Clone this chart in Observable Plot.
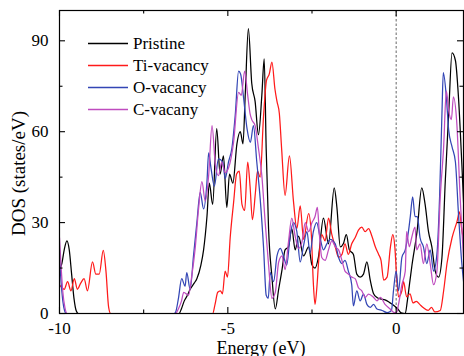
<!DOCTYPE html>
<html>
<head>
<meta charset="utf-8">
<script src="https://cdn.jsdelivr.net/npm/d3@7"></script>
<script src="https://cdn.jsdelivr.net/npm/@observablehq/plot@0.6"></script>
<style>
  html, body { margin: 0; padding: 0; background: #fff; }
  #chart { width: 464px; height: 356px; }
  #chart svg, #chart svg text { font-family: "Liberation Serif", "Times New Roman", "DejaVu Serif", serif !important; }
</style>
</head>
<body>
<div id="chart"></div>
<script>
// ---- Data ----
const seriesNames = ["Pristine", "Ti-vacancy", "O-vacancy", "C-vacany"];
const seriesColors = ["#000000", "#ff1a1a", "#3346b5", "#bf4cbf"];

const xTicks = [-10, -5, 0];
const xMinorTicks = [-7.5, -2.5];
const yTicks = [0, 30, 60, 90];
const yMinorTicks = [15, 45, 75];
const fermiLevel = [0];

const pristine = [
  [-10, 14.5], [-9.93, 16.5], [-9.86, 21], [-9.78, 24], [-9.71, 21], [-9.64, 13], [-9.57, 5], [-9.5, 0.8], [-9.44, 0],
  [-6.45, 0], [-6.38, 1.5], [-6.3, 4], [-6.2, 6], [-6.12, 8], [-6.0, 10], [-5.92, 11.5], [-5.8, 16], [-5.72, 21],
  [-5.62, 32], [-5.55, 43], [-5.45, 36], [-5.33, 61], [-5.23, 46], [-5.13, 52], [-5.03, 35], [-4.95, 46], [-4.85, 43],
  [-4.73, 56], [-4.63, 60], [-4.55, 56], [-4.48, 73], [-4.39, 94], [-4.29, 76], [-4.19, 70], [-4.09, 59], [-3.99, 72],
  [-3.92, 84], [-3.86, 54], [-3.79, 28], [-3.69, 12], [-3.59, 1.5], [-3.49, 8], [-3.39, 14.5], [-3.3, 21], [-3.2, 22],
  [-3.1, 28], [-3.0, 21], [-2.9, 25.5], [-2.75, 19], [-2.6, 22], [-2.5, 16], [-2.41, 15], [-2.31, 18.5], [-2.16, 31.5],
  [-2.01, 23], [-1.84, 41.5], [-1.76, 35], [-1.66, 22], [-1.57, 23], [-1.48, 26], [-1.39, 21], [-1.27, 19.5], [-1.17, 13],
  [-1.07, 12], [-0.97, 13], [-0.87, 17], [-0.77, 11], [-0.67, 6.5], [-0.57, 5.3], [-0.47, 4.8], [-0.33, 4.5], [-0.18, 3.5],
  [-0.05, 2.5], [0.05, 1.5], [0.15, 0.2], [0.27, 0], [0.33, 4], [0.4, 10], [0.47, 16], [0.62, 27], [0.76, 41.5],
  [0.86, 36], [0.96, 27], [1.06, 22], [1.16, 14], [1.26, 12], [1.36, 18.5], [1.46, 44], [1.56, 66], [1.66, 86],
  [1.76, 83.5], [1.85, 71.5], [1.95, 49.5], [2.05, 25]
];

const tiVacancy = [
  [-10, 9.5], [-9.93, 8.5], [-9.86, 8], [-9.76, 10.5], [-9.66, 7.5], [-9.56, 11.5], [-9.47, 8], [-9.37, 10], [-9.27, 11.5],
  [-9.17, 7.5], [-9.02, 17], [-8.92, 13], [-8.82, 13], [-8.7, 20.8], [-8.62, 14], [-8.54, 2], [-8.48, 0],
  [-5.45, 0], [-5.38, 3], [-5.3, 7], [-5.22, 7.5], [-5.16, 6.5], [-5.08, 14], [-5.01, 12], [-4.93, 25], [-4.83, 36.5],
  [-4.74, 46], [-4.66, 47], [-4.58, 36], [-4.5, 34], [-4.41, 50], [-4.34, 42], [-4.27, 31], [-4.18, 40], [-4.12, 47],
  [-4.04, 45], [-3.94, 65], [-3.85, 77], [-3.77, 79], [-3.69, 83], [-3.6, 74], [-3.54, 70], [-3.47, 66], [-3.4, 54],
  [-3.3, 39], [-3.17, 52], [-3.05, 37], [-2.95, 28], [-2.85, 35.5], [-2.75, 24.5], [-2.6, 33], [-2.52, 26], [-2.46, 10],
  [-2.41, 3], [-2.36, 8], [-2.3, 17.5], [-2.21, 26], [-2.11, 24], [-2.01, 31.5], [-1.91, 26], [-1.81, 22], [-1.71, 18.5],
  [-1.61, 19.5], [-1.52, 23], [-1.42, 19.5], [-1.32, 23], [-1.22, 25], [-1.12, 27.5], [-1.02, 28.5], [-0.92, 27],
  [-0.82, 28], [-0.72, 25.5], [-0.62, 22], [-0.52, 19.5], [-0.45, 17.5], [-0.37, 11], [-0.27, 12], [-0.17, 22],
  [-0.1, 26], [-0.04, 22], [0.02, 11], [0.07, 5.5], [0.17, 7.5], [0.22, 10.5], [0.31, 5.5], [0.41, 6.5], [0.5, 3.5],
  [0.6, 4], [0.7, 3], [0.8, 2], [0.95, 1], [1.05, 2], [1.15, 0.5], [1.31, 1], [1.41, 7.5], [1.51, 16.5], [1.66, 25],
  [1.81, 30.5], [1.88, 33.5], [1.95, 27.5], [2.05, 22]
];

const oVacancy = [
  [-10, 19], [-9.95, 10], [-9.9, 4], [-9.85, 1], [-9.8, 0],
  [-6.6, 0], [-6.55, 0.5], [-6.47, 4.8], [-6.37, 11.5], [-6.27, 9], [-6.22, 13.5], [-6.12, 8], [-6.02, 19], [-5.92, 30],
  [-5.82, 40], [-5.72, 34.5], [-5.62, 43.5], [-5.57, 53], [-5.5, 48], [-5.4, 42], [-5.28, 51], [-5.15, 50], [-5.08, 44.5],
  [-4.98, 50], [-4.88, 54.5], [-4.78, 65.5], [-4.68, 80], [-4.62, 79], [-4.53, 71], [-4.43, 61], [-4.33, 56.5],
  [-4.24, 62], [-4.14, 50], [-4.04, 38], [-3.94, 22], [-3.86, 6], [-3.8, 5], [-3.74, 13.5], [-3.64, 10.5], [-3.54, 19],
  [-3.44, 21.5], [-3.35, 19], [-3.25, 16], [-3.15, 25.5], [-3.05, 30], [-2.95, 27], [-2.85, 17], [-2.75, 22.5],
  [-2.65, 27], [-2.56, 20], [-2.46, 27], [-2.36, 30], [-2.26, 25], [-2.16, 21], [-2.06, 23], [-1.96, 24.5], [-1.81, 23],
  [-1.71, 18.5], [-1.61, 16.5], [-1.52, 17.5], [-1.42, 14], [-1.32, 9.5], [-1.27, 2.5], [-1.17, 7.5], [-1.07, 4.2],
  [-0.97, 6.4], [-0.87, 3], [-0.77, 2], [-0.67, 3], [-0.57, 1.5], [-0.42, 1], [-0.27, 0.3], [-0.14, 1], [-0.08, 7.5],
  [0, 14], [0.07, 7.5], [0.17, 18.5], [0.27, 21], [0.37, 27.5], [0.42, 32], [0.49, 38.5], [0.56, 32], [0.63, 32],
  [0.71, 25], [0.81, 22], [0.91, 16.5], [1.01, 21], [1.11, 14], [1.21, 19.5], [1.29, 38.5], [1.36, 66], [1.4, 79.5],
  [1.49, 71.5], [1.56, 60.5], [1.66, 55], [1.76, 50], [1.85, 33], [1.95, 16.5], [2.05, 6]
];

const cVacancy = [
  [-10, 25], [-9.95, 15], [-9.9, 7], [-9.84, 2], [-9.77, 0],
  [-6.55, 0], [-6.47, 1.5], [-6.38, 4], [-6.31, 7], [-6.17, 6], [-6.07, 12.5], [-5.97, 21.5], [-5.87, 34.5], [-5.77, 43.5],
  [-5.67, 37], [-5.57, 45.5], [-5.47, 62], [-5.37, 49], [-5.28, 45.5], [-5.18, 50], [-5.08, 46.5], [-4.98, 48],
  [-4.83, 56.5], [-4.68, 73], [-4.6, 72], [-4.5, 80], [-4.41, 72], [-4.34, 66], [-4.29, 64], [-4.19, 62], [-4.09, 54.5],
  [-3.99, 45.5], [-3.89, 30], [-3.79, 16], [-3.69, 5], [-3.59, 7], [-3.49, 17], [-3.39, 19], [-3.3, 14.5], [-3.2, 23.5],
  [-3.1, 31.5], [-3.0, 25.5], [-2.9, 21.5], [-2.8, 23.5], [-2.7, 30], [-2.6, 27], [-2.5, 30], [-2.41, 32], [-2.34, 35],
  [-2.28, 26], [-2.21, 18.5], [-2.11, 17.5], [-2.01, 21], [-1.91, 24], [-1.81, 22], [-1.71, 21], [-1.61, 17.5],
  [-1.52, 14], [-1.42, 13], [-1.32, 12], [-1.22, 11.5], [-1.12, 8.5], [-1.02, 7.5], [-0.92, 5.3], [-0.82, 6.4],
  [-0.67, 5.3], [-0.57, 4.2], [-0.47, 5.3], [-0.33, 3], [-0.18, 1.5], [-0.05, 0.3], [0.02, 0.5], [0.07, 3], [0.17, 9.5],
  [0.27, 14], [0.31, 27], [0.39, 22], [0.46, 25], [0.56, 28.5], [0.61, 21], [0.71, 23], [0.81, 16.5], [0.91, 23],
  [1.01, 16.5], [1.11, 9.5], [1.21, 14], [1.31, 38.5], [1.41, 55], [1.49, 73.5], [1.56, 67], [1.64, 64], [1.7, 71.5],
  [1.8, 63], [1.9, 38.5], [2.05, 10]
];

const allSeries = [pristine, tiVacancy, oVacancy, cVacancy];

// ---- Layout ----
const W = 464, H = 356;
const mL = 59, mR = 1, mT = 10, mB = 43;
const frameH = H - mT - mB;
const frameW = W - mL - mR;
const tickLen = 6, minorLen = 3.5;
const font = "Liberation Serif, Times New Roman, DejaVu Serif, serif";

const marks = [];
// Fermi level dashed line
marks.push(Plot.ruleX(fermiLevel, {stroke: "#555", strokeWidth: 0.9, strokeDasharray: "2.5,2"}));
// DOS curves
allSeries.forEach((s, i) => {
  marks.push(Plot.line(s, {
    x: d => d[0], y: d => d[1], stroke: seriesColors[i], strokeWidth: 1.25,
    curve: "monotone-x", clip: true
  }));
});
// Frame
marks.push(Plot.frame({stroke: "#000", strokeWidth: 1.2}));
// Inward ticks: bottom & top
marks.push(Plot.ruleX(xTicks, {stroke: "#000", strokeWidth: 1.1, insetTop: frameH - tickLen}));
marks.push(Plot.ruleX(xTicks, {stroke: "#000", strokeWidth: 1.1, insetBottom: frameH - tickLen}));
marks.push(Plot.ruleX(xMinorTicks, {stroke: "#000", strokeWidth: 1.1, insetTop: frameH - minorLen}));
marks.push(Plot.ruleX(xMinorTicks, {stroke: "#000", strokeWidth: 1.1, insetBottom: frameH - minorLen}));
// Inward ticks: left & right
marks.push(Plot.ruleY(yTicks, {stroke: "#000", strokeWidth: 1.1, insetRight: frameW - tickLen}));
marks.push(Plot.ruleY(yTicks, {stroke: "#000", strokeWidth: 1.1, insetLeft: frameW - tickLen}));
marks.push(Plot.ruleY(yMinorTicks, {stroke: "#000", strokeWidth: 1.1, insetRight: frameW - minorLen}));
marks.push(Plot.ruleY(yMinorTicks, {stroke: "#000", strokeWidth: 1.1, insetLeft: frameW - minorLen}));
// Tick labels
marks.push(Plot.axisX(xTicks, {tickSize: 0, tickPadding: 8, fontSize: 17, label: null, tickFormat: d => String(d)}));
marks.push(Plot.axisY(yTicks, {tickSize: 0, tickPadding: 11, fontSize: 17, label: null, tickFormat: d => String(d)}));

const chart = Plot.plot({
  width: W, height: H,
  marginLeft: mL, marginRight: mR, marginTop: mT, marginBottom: mB,
  x: {domain: [-10, 2]},
  y: {domain: [0, 100]},
  style: {fontFamily: font, background: "#fff", color: "#000"},
  marks
});
document.getElementById("chart").appendChild(chart);

// ---- Axis titles and legend (pixel-space annotations) ----
const svg = d3.select(chart);
svg.append("text")
  .attr("x", mL + frameW / 2).attr("y", 353.5)
  .attr("text-anchor", "middle")
  .attr("font-size", 18).attr("fill", "#000")
  .text("Energy (eV)");
svg.append("text")
  .attr("transform", "translate(25,173.5) rotate(-90)")
  .attr("text-anchor", "middle")
  .attr("font-size", 19).attr("fill", "#000")
  .text("DOS (states/eV)");

const leg = svg.append("g");
seriesNames.forEach((name, i) => {
  const y = 43.5 + i * 22;
  leg.append("line").attr("x1", 88).attr("x2", 128).attr("y1", y).attr("y2", y)
    .attr("stroke", seriesColors[i]).attr("stroke-width", 1.4);
  leg.append("text").attr("x", 133).attr("y", y + 5.5)
    .attr("text-anchor", "start")
    .attr("font-size", 17).attr("fill", "#000")
    .text(name);
});
</script>
</body>
</html>
